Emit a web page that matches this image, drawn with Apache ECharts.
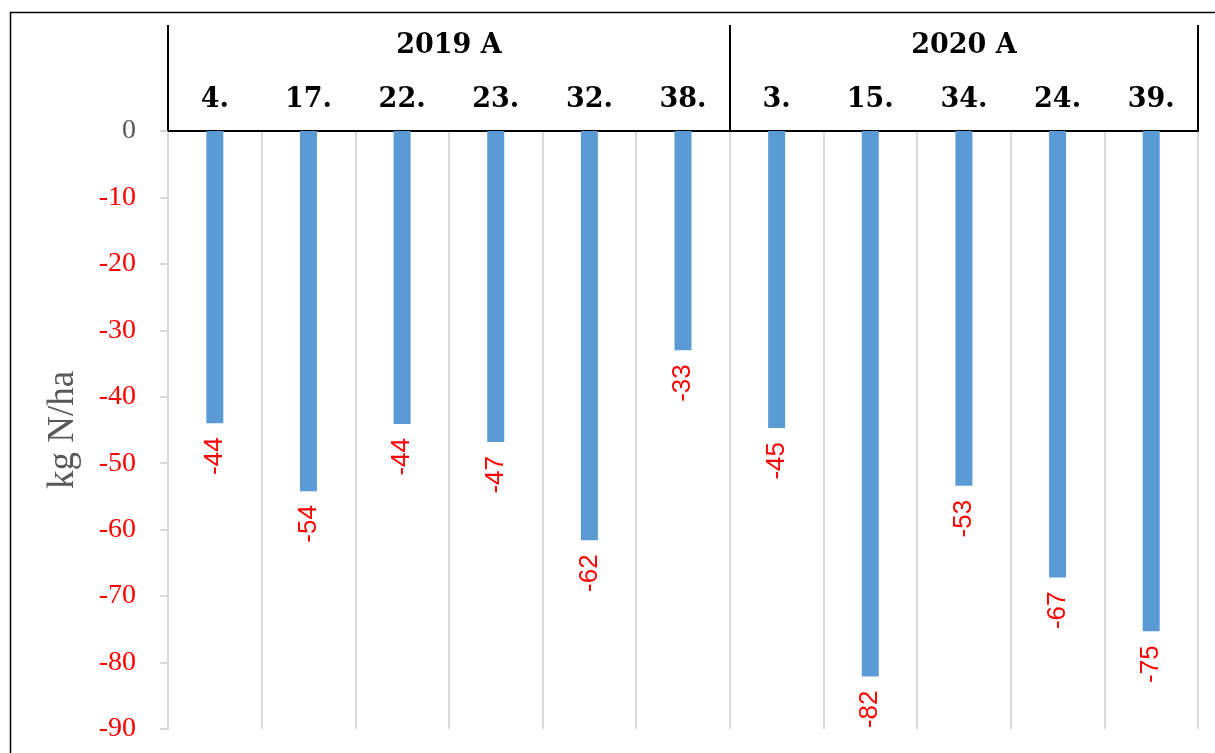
<!DOCTYPE html>
<html>
<head>
    <meta charset="utf-8">
    <title>kg N/ha</title>
    <script src="https://cdn.jsdelivr.net/npm/echarts@6/dist/echarts.min.js"></script>
    <style>
        html, body { margin: 0; padding: 0; background: #fff; }
        #chart1 { width: 1215px; height: 753px; }
    </style>
</head>
<body>
<div id="chart1"></div>
<script type="text/javascript">

    // 数据
    var categories = ['4.', '17.', '22.', '23.', '32.', '38.', '3.', '15.', '34.', '24.', '39.'];
    var values = [-44, -54.2, -44.1, -46.8, -61.6, -33, -44.7, -82.1, -53.4, -67.2, -75.3];
    var groupNames = ['2019 A', '2020 A'];
    var groupSizes = [6, 5];
    var yTicks = [0, -10, -20, -30, -40, -50, -60, -70, -80, -90];

    // 分组边界和中心 (按类别数)
    var groupEdges = [0];
    var groupCenters = [];
    groupSizes.forEach(function (n, i) {
        var start = groupEdges[i];
        groupEdges.push(start + n);
        groupCenters.push(start + n / 2);
    });

    var myChart1 = echarts.init(document.getElementById('chart1'));

    myChart1.setOption({
        animation: false,
        grid: {
            left: 168,
            right: 17,
            top: 131,
            bottom: 24
        },
        graphic: [{
            type: 'rect',
            silent: true,
            z: -1,
            shape: { x: 10.5, y: 12.5, width: 1400, height: 900 },
            style: { fill: 'none', stroke: '#000', lineWidth: 1.5 }
        }],
        xAxis: [{
            type: 'category',
            position: 'top',
            data: categories,
            axisLine: { lineStyle: { color: '#000', width: 2 } },
            axisTick: { show: false },
            axisLabel: {
                interval: 0,
                margin: 18,
                color: '#000',
                fontFamily: 'DejaVu Serif',
                fontWeight: 'bold',
                fontSize: 27
            },
            splitLine: { show: true, lineStyle: { color: '#d9d9d9', width: 2 } }
        }, {
            type: 'value',
            position: 'top',
            min: 0,
            max: categories.length,
            axisLine: { show: false },
            axisTick: {
                show: true,
                customValues: groupEdges,
                length: 106,
                lineStyle: { color: '#000', width: 2 }
            },
            axisLabel: {
                customValues: groupCenters,
                margin: 72,
                color: '#000',
                fontFamily: 'DejaVu Serif',
                fontWeight: 'bold',
                fontSize: 27,
                formatter: function (v) {
                    return groupNames[groupCenters.indexOf(v)];
                }
            },
            splitLine: { show: false }
        }],
        yAxis: {
            type: 'value',
            min: yTicks[yTicks.length - 1],
            max: yTicks[0],
            interval: 10,
            name: 'kg N/ha',
            nameLocation: 'middle',
            nameGap: 86,
            nameTextStyle: {
                color: '#595959',
                fontFamily: 'Liberation Serif',
                fontSize: 37
            },
            axisLine: { show: true, lineStyle: { color: '#d9d9d9', width: 2 } },
            axisTick: { show: true, length: 8, lineStyle: { color: '#d9d9d9', width: 2 } },
            axisLabel: {
                margin: 32,
                fontFamily: 'Liberation Serif',
                fontSize: 28,
                color: function (v) {
                    return Number(v) === 0 ? '#595959' : '#ff0000';
                }
            },
            splitLine: { show: false }
        },
        series: [{
            name: 'kg N/ha',
            type: 'bar',
            xAxisIndex: 0,
            data: values,
            barWidth: 17,
            itemStyle: { color: '#5b9bd5' },
            label: {
                show: true,
                position: 'bottom',
                distance: 14,
                rotate: 90,
                align: 'right',
                verticalAlign: 'middle',
                color: '#ff0000',
                fontFamily: 'Liberation Sans',
                fontSize: 26,
                formatter: function (p) {
                    return Math.round(p.value);
                }
            }
        }]
    });

</script>
</body>
</html>
